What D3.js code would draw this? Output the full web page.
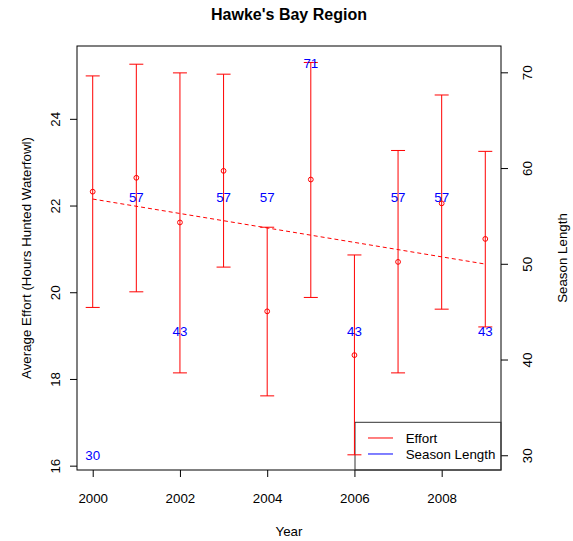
<!DOCTYPE html>
<meta charset="utf-8">
<style>
body { margin: 0; background: #fff; }
svg { font-family: "Liberation Sans", Arial, Helvetica, sans-serif; }
.axis path { display: none; }
.axis line { stroke: #000; }
.axis text { font-size: 13.33px; fill: #000; }
</style>
<svg width="573" height="541"></svg>
<script src="https://d3js.org/d3.v7.min.js"></script>
<script>
var years = [2000, 2001, 2002, 2003, 2004, 2005, 2006, 2007, 2008, 2009];
var effort = [22.32, 22.64, 21.61, 22.80, 19.56, 22.60, 18.55, 20.70, 22.05, 21.23];
var effortLow = [19.65, 20.01, 18.14, 20.58, 17.61, 19.88, 16.25, 18.14, 19.61, 19.20];
var effortHigh = [24.99, 25.26, 25.06, 25.03, 21.50, 25.30, 20.86, 23.27, 24.55, 23.25];
var seasonLength = [30, 57, 43, 57, 57, 71, 43, 57, 57, 43];
var trendYears = [2000, 2009];
var trendEffort = [22.15, 20.65];
var xTicks = [2000, 2002, 2004, 2006, 2008];
var leftTicks = [16, 18, 20, 22, 24];
var rightTicks = [30, 40, 50, 60, 70];

var svg = d3.select("svg"),
    margin = {top: 46, right: 72, bottom: 71, left: 77},
    width = +svg.attr("width") - margin.left - margin.right,
    height = +svg.attr("height") - margin.top - margin.bottom;

var data = years.map(function(y, i) {
  return {year: y, mean: effort[i], lo: effortLow[i], hi: effortHigh[i], season: seasonLength[i]};
});

var x = d3.scaleLinear().domain([1999.64, 2009.36]).range([0, width]),
    yL = d3.scaleLinear().domain([15.9, 25.68]).range([height, 0]),
    yR = d3.scaleLinear().domain([28.46, 72.75]).range([height, 0]);

var g = svg.append("g")
    .attr("transform", "translate(" + margin.left + "," + margin.top + ")");

// axes
g.append("g")
    .attr("class", "axis")
    .attr("transform", "translate(0," + height + ")")
    .call(d3.axisBottom(x).tickValues(xTicks).tickFormat(d3.format("d")).tickSize(7))
  .selectAll("text")
    .attr("y", 33)
    .attr("dy", 0);

g.append("g")
    .attr("class", "axis")
    .call(d3.axisLeft(yL).tickValues(leftTicks).tickSize(7))
  .selectAll("text")
    .attr("transform", "rotate(-90)")
    .attr("x", 0)
    .attr("y", -17)
    .attr("dy", 0)
    .attr("text-anchor", "middle");

g.append("g")
    .attr("class", "axis")
    .attr("transform", "translate(" + width + ",0)")
    .call(d3.axisRight(yR).tickValues(rightTicks).tickSize(7))
  .selectAll("text")
    .attr("transform", "rotate(-90)")
    .attr("x", 0)
    .attr("y", 31)
    .attr("dy", 0)
    .attr("text-anchor", "middle");

// plot box
g.append("rect")
    .attr("width", width)
    .attr("height", height)
    .attr("fill", "none")
    .attr("stroke", "#000")
    .attr("stroke-width", 1);

// legend
var legend = g.append("g")
    .attr("transform", "translate(" + (width - 146) + "," + (height - 47.7) + ")");
legend.append("rect")
    .attr("width", 146)
    .attr("height", 47.7)
    .attr("fill", "none")
    .attr("stroke", "#333");
var legendItems = [{label: "Effort", color: "red"}, {label: "Season Length", color: "blue"}];
legendItems.forEach(function(d, i) {
  var ly = 15.7 + i * 16;
  legend.append("line")
      .attr("x1", 13).attr("x2", 38)
      .attr("y1", ly).attr("y2", ly)
      .attr("stroke", d.color);
  legend.append("text")
      .attr("x", 50.7)
      .attr("y", ly)
      .attr("dy", "0.35em")
      .style("font-size", "13.33px")
      .text(d.label);
});

// trend line
g.append("path")
    .datum(trendYears.map(function(y, i) { return [y, trendEffort[i]]; }))
    .attr("fill", "none")
    .attr("stroke", "red")
    .attr("stroke-dasharray", "4,3")
    .attr("d", d3.line().x(function(d) { return x(d[0]); }).y(function(d) { return yL(d[1]); }));

// error bars
var bars = g.selectAll(".err")
  .data(data)
  .enter().append("g")
    .attr("class", "err");
bars.append("line")
    .attr("x1", function(d) { return x(d.year); })
    .attr("x2", function(d) { return x(d.year); })
    .attr("y1", function(d) { return yL(d.lo); })
    .attr("y2", function(d) { return yL(d.hi); })
    .attr("stroke", "red");
bars.append("line")
    .attr("x1", function(d) { return x(d.year) - 7; })
    .attr("x2", function(d) { return x(d.year) + 7; })
    .attr("y1", function(d) { return yL(d.hi); })
    .attr("y2", function(d) { return yL(d.hi); })
    .attr("stroke", "red");
bars.append("line")
    .attr("x1", function(d) { return x(d.year) - 7; })
    .attr("x2", function(d) { return x(d.year) + 7; })
    .attr("y1", function(d) { return yL(d.lo); })
    .attr("y2", function(d) { return yL(d.lo); })
    .attr("stroke", "red");
bars.append("circle")
    .attr("cx", function(d) { return x(d.year); })
    .attr("cy", function(d) { return yL(d.mean); })
    .attr("r", 2.4)
    .attr("fill", "none")
    .attr("stroke", "red");

// season length labels
g.selectAll(".season")
  .data(data)
  .enter().append("text")
    .attr("class", "season")
    .attr("x", function(d) { return x(d.year); })
    .attr("y", function(d) { return yR(d.season); })
    .attr("dy", "0.36em")
    .attr("text-anchor", "middle")
    .attr("fill", "blue")
    .style("font-size", "13.33px")
    .text(function(d) { return d.season; });

// titles
svg.append("text")
    .attr("x", margin.left + width / 2)
    .attr("y", 20)
    .attr("text-anchor", "middle")
    .style("font-size", "16px")
    .style("font-weight", "bold")
    .text("Hawke's Bay Region");

svg.append("text")
    .attr("x", margin.left + width / 2)
    .attr("y", 536)
    .attr("text-anchor", "middle")
    .style("font-size", "13.33px")
    .text("Year");

svg.append("text")
    .attr("transform", "translate(31," + (margin.top + height / 2) + ") rotate(-90)")
    .attr("text-anchor", "middle")
    .style("font-size", "13.33px")
    .text("Average Effort (Hours Hunted Waterfowl)");

svg.append("text")
    .attr("transform", "translate(567," + (margin.top + height / 2) + ") rotate(-90)")
    .attr("text-anchor", "middle")
    .style("font-size", "13.33px")
    .text("Season Length");
</script>
